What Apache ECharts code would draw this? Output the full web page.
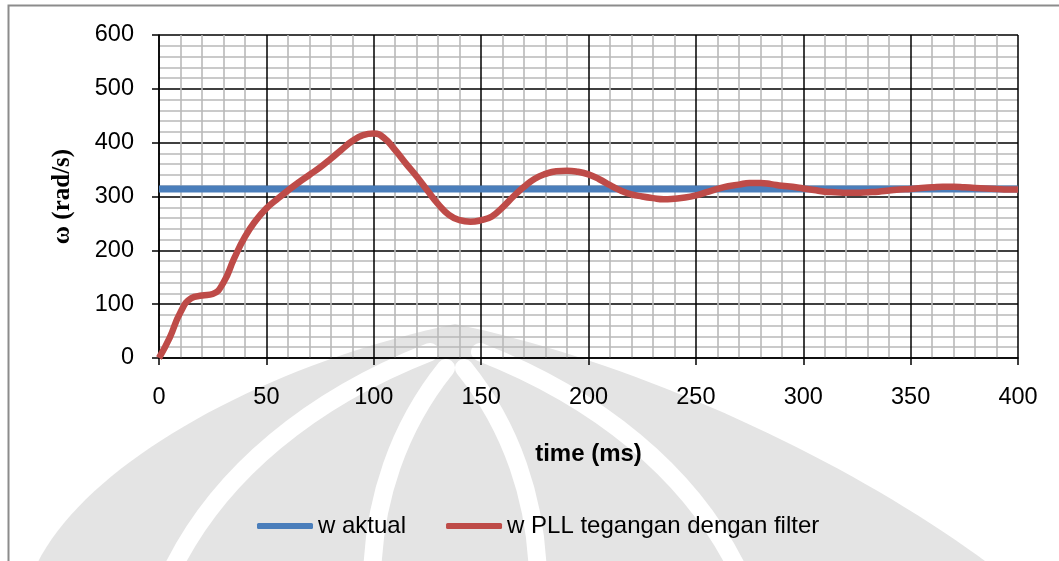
<!DOCTYPE html>
<html>
<head>
<meta charset="utf-8">
<script src="https://cdn.jsdelivr.net/npm/echarts@6/dist/echarts.min.js"></script>
<style>
  html, body { margin: 0; padding: 0; background: #fff; }
  #chart { width: 1059px; height: 561px; }
</style>
</head>
<body>
<div id="chart"></div>
<script>
// time axis (ms) and rotor speed (rad/s)
const timeMs = [0, 5, 10, 15, 20, 25, 30, 35, 40, 45, 50, 55, 60, 65, 70, 75, 80, 85, 90, 95,
  100, 105, 110, 115, 120, 125, 130, 135, 140, 145, 150, 155, 160, 165, 170, 175, 180, 185, 190, 195,
  200, 205, 210, 215, 220, 225, 230, 235, 240, 245, 250, 255, 260, 265, 270, 275, 280, 285, 290, 295,
  300, 305, 310, 315, 320, 325, 330, 335, 340, 345, 350, 355, 360, 365, 370, 375, 380, 385, 390, 395, 400];

const wPll = [0, 38, 85, 111, 116, 119, 140, 185, 225, 255, 278, 295, 311, 326, 340, 354, 370, 387, 403, 414,
  417, 408, 386, 361, 337, 311, 286, 266, 256, 253, 256, 263, 280, 300, 318, 333, 342, 347, 348, 346,
  341, 332, 321, 311, 304, 300, 297, 295, 296, 298, 302, 308, 314, 319, 322, 325, 325, 323, 320, 318,
  315, 312, 309, 308, 307, 307, 308, 309, 311, 313, 314, 316, 317, 318, 318, 317, 316, 315, 314, 313, 313];

const wAktualTime = [0, 400];
const wAktual = [314, 314];

const xTicks = [0, 50, 100, 150, 200, 250, 300, 350, 400];
const yTicks = [0, 100, 200, 300, 400, 500, 600];

const seriesNames = ['w aktual', 'w PLL tegangan dengan filter'];

const pair = (xs, ys) => xs.map((x, i) => [x, ys[i]]);

const chart = echarts.init(document.getElementById('chart'), null, { renderer: 'canvas' });

const majorLine = { show: true, lineStyle: { color: '#000', width: 1.5 } };
const minorLine = { show: true, lineStyle: { color: '#b9b9b9', width: 1.6 } };

// faint page emblem behind the chart
const emblemFill = '#e4e4e4';
const emblemGap = { fill: 'none', stroke: '#fff', lineWidth: 18, lineCap: 'round' };

// sample a cubic curve into polygon points for the emblem outline
function cubicPts(p0, p1, p2, p3, n) {
  const out = [];
  for (let i = 0; i <= n; i++) {
    const t = i / n, u = 1 - t;
    out.push([
      u * u * u * p0[0] + 3 * u * u * t * p1[0] + 3 * u * t * t * p2[0] + t * t * t * p3[0],
      u * u * u * p0[1] + 3 * u * u * t * p1[1] + 3 * u * t * t * p2[1] + t * t * t * p3[1]
    ]);
  }
  return out;
}
const bellPts = cubicPts([30, 580], [70, 470], [260, 365], [455, 324], 40)
  .concat(cubicPts([455, 324], [650, 365], [870, 470], [1010, 580], 40).slice(1));

function gapCurve(x1, y1, c1x, c1y, c2x, c2y, x2, y2) {
  return {
    type: 'bezierCurve',
    shape: { x1: x1, y1: y1, cpx1: c1x, cpy1: c1y, cpx2: c2x, cpy2: c2y, x2: x2, y2: y2 },
    style: emblemGap
  };
}

chart.setOption({
  backgroundColor: '#fff',
  animation: false,
  textStyle: { fontFamily: 'Liberation Sans, Arial, sans-serif' },
  grid: { left: 159, right: 41, top: 35, bottom: 203, containLabel: false },
  graphic: [
    {
      type: 'group', z: -20, silent: true,
      children: [
        { type: 'polygon', shape: { points: bellPts }, style: { fill: emblemFill } },
        gapCurve(430, 352, 320, 395, 215, 470, 165, 585),
        gapCurve(446, 368, 400, 425, 372, 500, 372, 585),
        gapCurve(480, 352, 590, 395, 695, 470, 745, 585),
        gapCurve(464, 368, 510, 425, 538, 500, 538, 585)
      ]
    },
    {
      type: 'rect', z: -10, silent: true,
      shape: { x: 8.5, y: 5.5, width: 1070, height: 600 },
      style: { fill: 'none', stroke: '#8c8c8c', lineWidth: 2 }
    }
  ],
  xAxis: {
    type: 'value',
    min: xTicks[0], max: xTicks[xTicks.length - 1], interval: 50,
    name: 'time (ms)', nameLocation: 'middle', nameGap: 84,
    nameTextStyle: { fontSize: 24, fontWeight: 'bold', color: '#000' },
    axisLine: { show: true, lineStyle: { color: '#000', width: 1.5 } },
    axisTick: { show: true, length: 7, lineStyle: { color: '#000', width: 1.5 } },
    axisLabel: { fontSize: 23.5, color: '#000', margin: 28 },
    splitLine: majorLine,
    minorTick: { show: false, splitNumber: 5 },
    minorSplitLine: minorLine
  },
  yAxis: {
    type: 'value',
    min: yTicks[0], max: yTicks[yTicks.length - 1], interval: 100,
    name: '\u03c9 (rad/s)', nameLocation: 'middle', nameGap: 84, nameRotate: 90,
    nameTextStyle: { fontSize: 25, fontWeight: 'bold', color: '#000', fontFamily: 'Liberation Serif, Times New Roman, serif' },
    axisLine: { show: true, lineStyle: { color: '#000', width: 1.5 } },
    axisTick: { show: true, length: 7, lineStyle: { color: '#000', width: 1.5 } },
    axisLabel: { fontSize: 23.5, color: '#000', margin: 25 },
    splitLine: majorLine,
    minorTick: { show: false, splitNumber: 5 },
    minorSplitLine: minorLine
  },
  legend: {
    left: 257, top: 514,
    itemWidth: 56, itemHeight: 6, itemGap: 40, padding: 0,
    icon: 'roundRect',
    textStyle: { fontSize: 24, color: '#000' },
    data: seriesNames
  },
  series: [
    {
      name: seriesNames[0], type: 'line',
      data: pair(wAktualTime, wAktual),
      symbol: 'none',
      lineStyle: { color: '#4a7ebb', width: 7 },
      itemStyle: { color: '#4a7ebb' },
      z: 2
    },
    {
      name: seriesNames[1], type: 'line',
      data: pair(timeMs, wPll),
      symbol: 'none', smooth: 0.5,
      lineStyle: { color: '#be4b48', width: 6.5 },
      itemStyle: { color: '#be4b48' },
      z: 3
    }
  ]
});
</script>
</body>
</html>
